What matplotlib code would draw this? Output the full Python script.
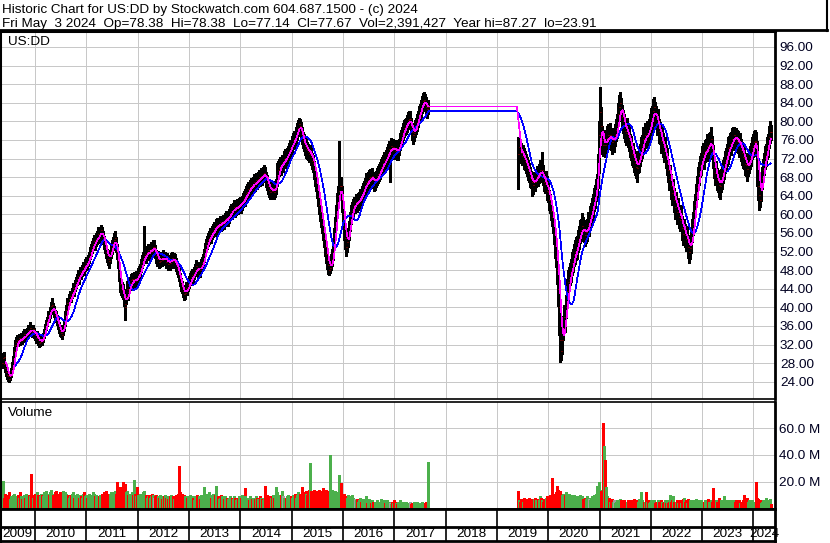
#!/usr/bin/env python

import numpy as np
import pandas as pd
import matplotlib
matplotlib.use('Agg')
import matplotlib.pyplot as plt
import matplotlib.dates as mdates
import matplotlib.ticker as plticker

plt.rcParams['font.family'] = ['Liberation Sans', 'DejaVu Sans']
plt.rcParams['font.size'] = 9.7

# Weekly data, old DD (May 2009 - Aug 2017)

old_close = [
    28.0, 29.0, 29.3, 27.8, 27.0, 26.0, 25.5, 25.2, 24.5, 25.3,
    26.2, 27.0, 28.8, 30.5, 32.0, 32.6, 33.0, 32.4, 33.3, 32.8,
    33.5, 33.0, 33.8, 34.2, 33.6, 34.0, 34.5, 35.2, 34.8, 35.5,
    35.0, 34.6, 35.3, 34.5, 34.0, 33.4, 33.9, 33.0, 32.4, 32.5,
    33.2, 32.8, 33.5, 34.3, 35.5, 36.2, 37.0, 38.2, 37.8, 39.0,
    40.2, 40.5, 39.6, 39.0, 38.4, 38.0, 37.2, 36.5, 35.6, 35.0,
    34.5, 34.0, 35.2, 36.0, 37.0, 38.3, 39.5, 41.0, 40.6, 41.8,
    42.5, 42.2, 43.0, 44.1, 43.6, 44.8, 45.4, 46.0, 46.8, 46.3,
    47.5, 47.2, 48.0, 48.6, 48.2, 49.0, 49.6, 49.2, 50.0, 50.8,
    51.7, 52.3, 53.0, 53.6, 54.2, 53.8, 54.6, 55.0, 55.8, 55.3,
    56.0, 56.6, 55.8, 55.0, 54.0, 53.0, 52.0, 51.2, 50.5, 50.0,
    51.0, 52.1, 53.0, 53.8, 54.5, 55.0, 53.5, 52.0, 50.0, 47.5,
    45.0, 44.2, 43.8, 43.5, 42.0, 40.8, 40.0, 42.5, 44.0, 43.2,
    44.5, 45.2, 45.8, 46.0, 45.4, 46.2, 45.6, 46.4, 46.0, 47.0,
    47.5, 48.0, 49.0, 49.8, 50.5, 51.0, 51.5, 51.0, 51.8, 52.3,
    51.6, 52.0, 52.6, 52.2, 53.0, 53.0, 52.0, 51.0, 50.3, 50.8,
    49.8, 50.0, 50.6, 50.2, 51.0, 50.4, 50.5, 49.8, 50.2, 49.4,
    49.8, 49.5, 50.3, 50.6, 49.9, 50.2, 50.0, 49.2, 48.5, 48.0,
    47.0, 46.0, 45.0, 44.3, 43.6, 42.8, 43.0, 43.5, 44.2, 44.0,
    44.8, 45.5, 46.0, 46.6, 47.0, 46.5, 47.4, 48.0, 48.8, 48.5,
    48.0, 48.4, 48.0, 48.9, 49.5, 50.0, 51.2, 52.5, 53.3, 54.0,
    54.5, 55.0, 55.6, 55.2, 56.0, 56.5, 57.0, 56.8, 57.5, 57.8,
    57.2, 57.6, 58.3, 57.8, 58.0, 58.5, 58.2, 58.9, 59.3, 58.8,
    59.0, 59.6, 60.2, 60.8, 60.4, 61.0, 61.5, 60.9, 61.3, 61.8,
    61.5, 62.0, 62.3, 61.8, 62.5, 63.0, 63.6, 63.2, 64.0, 64.5,
    64.9, 65.4, 65.0, 65.8, 66.3, 66.0, 66.5, 67.0, 66.6, 67.3,
    67.0, 67.5, 68.0, 67.6, 68.3, 68.0, 68.6, 69.0, 68.5, 67.5,
    66.8, 66.0, 65.3, 64.8, 65.5, 65.0, 65.6, 64.9, 65.3, 66.0,
    68.5, 69.6, 70.0, 70.5, 70.2, 71.0, 71.0, 71.8, 72.2, 71.7,
    72.5, 73.0, 73.6, 74.3, 74.0, 75.0, 75.8, 76.2, 76.0, 77.0,
    77.8, 78.6, 79.5, 79.0, 78.0, 77.0, 76.0, 75.4, 74.6, 74.0,
    74.5, 73.8, 73.4, 73.0, 73.2, 72.4, 71.5, 71.0, 69.5, 68.0,
    67.0, 65.5, 63.8, 62.0, 60.5, 59.2, 58.0, 56.5, 55.0, 53.0,
    51.5, 50.2, 49.0, 48.0, 48.5, 49.5, 50.5, 52.0, 55.0, 57.5,
    60.0, 62.5, 64.0, 65.0, 66.2, 66.0, 63.0, 60.0, 57.0, 55.0,
    53.0, 54.0, 55.0, 56.5, 58.5, 60.0, 60.8, 61.4, 62.0, 62.0,
    62.6, 62.2, 62.8, 63.0, 63.6, 63.3, 64.2, 65.0, 65.4, 66.0,
    66.5, 67.0, 66.6, 67.4, 67.8, 68.0, 67.6, 68.2, 67.4, 66.8,
    67.0, 67.6, 68.2, 68.6, 69.0, 69.5, 70.2, 70.5, 71.0, 71.6,
    71.4, 72.0, 72.6, 73.3, 74.0, 74.0, 74.6, 73.8, 74.4, 74.0,
    73.6, 74.2, 73.4, 73.5, 74.5, 75.6, 76.3, 77.0, 77.8, 78.5,
    78.8, 79.0, 79.6, 80.2, 80.5, 80.5, 79.0, 77.8, 77.0, 77.6,
    78.4, 79.0, 79.8, 80.5, 81.5, 82.0, 82.8, 83.6, 84.3, 84.5,
    84.0, 83.5, 83.0, 82.6, 83.0]

old_high = [
    29.5, 30.2, 30.4, 29.6, 28.2, 27.4, 26.8, 26.3, 25.8, 26.4,
    27.0, 28.3, 29.6, 31.4, 32.9, 33.6, 34.0, 33.5, 34.2, 33.9,
    34.4, 34.0, 34.9, 35.3, 34.6, 35.1, 35.6, 36.3, 35.9, 36.8,
    36.0, 35.7, 36.2, 35.6, 35.0, 34.5, 34.9, 34.2, 33.5, 33.4,
    34.0, 33.8, 34.4, 35.3, 36.4, 37.3, 38.0, 39.2, 38.9, 40.0,
    41.2, 42.0, 41.0, 40.2, 39.5, 39.2, 38.3, 37.6, 36.8, 36.1,
    35.6, 35.3, 36.2, 37.1, 38.0, 39.3, 40.6, 42.0, 41.7, 42.8,
    43.6, 43.4, 44.2, 45.2, 44.8, 45.9, 46.6, 47.2, 48.0, 47.5,
    48.7, 48.5, 49.2, 49.8, 49.5, 50.3, 50.9, 50.5, 51.3, 52.0,
    53.0, 53.6, 54.3, 55.0, 55.6, 55.2, 56.0, 56.5, 57.2, 56.8,
    57.3, 57.8, 57.2, 56.4, 55.4, 54.4, 53.4, 52.6, 51.9, 51.4,
    52.4, 53.5, 54.4, 55.2, 56.0, 56.5, 55.2, 53.6, 51.8, 49.4,
    47.0, 46.0, 45.4, 45.0, 44.0, 42.8, 42.4, 44.0, 45.6, 44.8,
    45.9, 46.6, 47.2, 47.4, 46.8, 47.6, 47.0, 47.9, 47.4, 48.4,
    48.9, 49.4, 50.4, 51.2, 51.9, 57.6, 52.9, 52.4, 53.2, 53.7,
    53.0, 53.4, 54.0, 53.6, 54.4, 54.4, 53.4, 52.4, 51.7, 52.2,
    51.2, 51.4, 52.0, 51.6, 52.4, 51.8, 51.9, 51.2, 51.6, 50.8,
    51.2, 50.9, 51.7, 52.0, 51.3, 51.6, 51.4, 50.6, 49.9, 49.4,
    48.4, 47.4, 46.4, 45.6, 44.9, 44.1, 44.3, 44.8, 45.5, 45.3,
    46.1, 46.8, 47.3, 47.9, 48.3, 47.8, 48.7, 49.3, 50.1, 49.8,
    49.4, 49.8, 49.4, 50.3, 50.9, 51.4, 52.6, 53.9, 54.7, 55.4,
    55.9, 56.4, 57.0, 56.6, 57.4, 57.9, 58.4, 58.2, 58.9, 59.2,
    58.6, 59.0, 59.7, 59.2, 59.4, 59.9, 59.6, 60.3, 60.7, 60.2,
    60.5, 61.1, 61.7, 62.3, 61.9, 62.5, 63.0, 62.4, 62.8, 63.3,
    63.0, 63.5, 63.8, 63.3, 64.0, 64.5, 65.1, 64.7, 65.5, 66.0,
    66.5, 67.0, 66.6, 67.4, 67.9, 67.6, 68.1, 68.6, 68.2, 68.9,
    68.6, 69.1, 69.6, 69.2, 69.9, 69.6, 70.2, 70.6, 70.1, 69.1,
    68.4, 67.6, 66.9, 66.4, 67.1, 66.6, 67.2, 66.5, 66.9, 67.6,
    71.0, 71.4, 71.8, 72.3, 72.0, 72.8, 72.8, 73.6, 74.0, 73.5,
    74.3, 74.8, 75.4, 76.1, 75.8, 76.8, 77.6, 78.0, 77.8, 78.8,
    79.6, 80.4, 80.8, 80.6, 79.8, 78.8, 77.8, 77.2, 76.4, 75.8,
    76.3, 75.6, 75.2, 74.8, 75.0, 74.2, 73.3, 72.8, 71.4, 69.9,
    69.0, 67.5, 65.8, 64.0, 62.5, 61.2, 60.0, 58.5, 57.0, 55.0,
    53.5, 52.2, 51.0, 50.0, 50.5, 51.5, 52.5, 54.0, 57.0, 59.5,
    62.0, 64.5, 66.0, 75.8, 68.0, 68.0, 66.0, 62.5, 59.5, 57.0,
    55.0, 56.0, 57.0, 58.5, 60.5, 62.0, 62.6, 63.2, 63.8, 63.8,
    64.4, 64.0, 64.6, 64.8, 65.4, 65.1, 66.0, 66.8, 67.2, 67.8,
    68.3, 68.8, 68.4, 69.2, 69.6, 69.8, 69.4, 70.0, 69.2, 68.6,
    68.8, 69.4, 70.0, 70.4, 70.8, 71.3, 72.0, 72.3, 72.8, 73.4,
    73.2, 73.8, 74.4, 75.1, 75.8, 75.8, 76.4, 75.6, 76.2, 75.8,
    75.4, 76.0, 75.2, 75.3, 76.3, 77.4, 78.1, 78.8, 79.6, 80.3,
    80.6, 80.8, 81.4, 82.0, 82.3, 82.3, 80.8, 79.6, 78.8, 79.4,
    80.2, 80.8, 81.6, 82.3, 83.3, 83.8, 84.6, 85.4, 86.1, 86.3,
    85.8, 85.3, 84.8, 84.4, 84.6]

old_low = [
    27.0, 27.6, 28.2, 27.0, 26.1, 25.3, 24.6, 24.2, 23.9, 24.3,
    25.0, 26.0, 27.2, 28.6, 30.2, 31.6, 32.0, 31.6, 32.1, 31.9,
    32.4, 32.1, 32.8, 33.3, 32.6, 33.1, 33.6, 34.1, 33.8, 34.6,
    34.0, 33.6, 34.3, 33.5, 32.9, 32.4, 32.8, 32.0, 31.5, 31.6,
    32.1, 31.9, 32.5, 33.4, 34.3, 35.2, 36.0, 37.1, 36.8, 37.8,
    39.0, 39.4, 38.6, 38.0, 37.3, 36.9, 36.1, 35.4, 34.5, 33.8,
    33.6, 33.2, 34.1, 35.0, 35.9, 37.2, 38.4, 39.8, 39.6, 40.7,
    41.4, 41.1, 41.9, 42.9, 42.5, 43.6, 44.2, 44.9, 45.6, 45.1,
    46.3, 46.0, 46.8, 47.4, 47.0, 47.8, 48.4, 48.0, 48.8, 49.5,
    50.4, 51.0, 51.7, 52.3, 52.9, 52.4, 53.2, 53.6, 54.4, 53.9,
    54.6, 55.2, 54.4, 53.6, 52.6, 51.6, 50.6, 49.8, 49.0, 48.5,
    49.5, 50.6, 51.5, 52.3, 53.0, 53.5, 52.0, 50.4, 48.4, 45.6,
    43.2, 42.6, 42.2, 41.8, 40.2, 37.2, 38.6, 40.8, 42.4, 41.6,
    43.0, 43.8, 44.4, 44.6, 44.0, 44.8, 44.2, 45.0, 44.6, 45.6,
    46.1, 46.6, 47.6, 48.4, 49.1, 49.6, 50.1, 49.6, 50.4, 50.9,
    50.2, 50.6, 51.2, 50.8, 51.6, 51.6, 50.6, 49.6, 48.9, 49.4,
    48.4, 48.6, 49.2, 48.8, 49.6, 49.0, 49.1, 48.4, 48.8, 48.0,
    48.4, 48.1, 48.9, 49.2, 48.5, 48.8, 48.6, 47.8, 47.1, 46.6,
    45.6, 44.6, 43.6, 43.0, 42.3, 41.6, 41.7, 42.2, 42.9, 42.7,
    43.5, 44.2, 44.7, 45.3, 45.7, 45.2, 46.1, 46.7, 47.5, 47.2,
    46.6, 47.0, 46.6, 47.5, 48.1, 48.6, 49.8, 51.1, 51.9, 52.6,
    53.1, 53.6, 54.2, 53.8, 54.6, 55.1, 55.6, 55.4, 56.1, 56.4,
    55.8, 56.2, 56.9, 56.4, 56.6, 57.1, 56.8, 57.5, 57.9, 57.4,
    57.5, 58.1, 58.7, 59.3, 58.9, 59.5, 60.0, 59.4, 59.8, 60.3,
    60.0, 60.5, 60.8, 60.3, 61.0, 61.5, 62.1, 61.7, 62.5, 63.0,
    63.3, 63.8, 63.4, 64.2, 64.7, 64.4, 64.9, 65.4, 65.0, 65.7,
    65.4, 65.9, 66.4, 66.0, 66.7, 66.4, 67.0, 67.4, 66.9, 65.9,
    65.2, 64.4, 63.7, 63.2, 63.9, 63.4, 64.0, 63.3, 63.7, 64.4,
    66.0, 67.8, 68.2, 68.7, 68.4, 69.2, 69.2, 70.0, 70.4, 69.9,
    70.7, 71.2, 71.8, 72.5, 72.2, 73.2, 74.0, 74.4, 74.2, 75.2,
    76.0, 76.8, 77.6, 77.2, 76.2, 75.2, 74.2, 73.6, 72.8, 72.2,
    72.7, 72.0, 71.6, 71.2, 71.4, 70.6, 69.7, 69.2, 67.6, 66.1,
    65.0, 63.5, 61.8, 60.0, 58.5, 57.2, 56.0, 54.5, 53.0, 51.0,
    49.5, 48.2, 47.2, 47.0, 47.3, 48.0, 48.8, 50.2, 53.0, 55.5,
    58.0, 60.5, 62.0, 63.0, 64.2, 63.0, 60.5, 57.5, 54.5, 52.5,
    51.0, 52.0, 53.0, 54.5, 56.5, 58.0, 59.0, 59.6, 60.2, 60.2,
    60.8, 60.4, 61.0, 61.2, 61.8, 61.5, 62.4, 63.2, 63.6, 64.2,
    64.7, 65.2, 64.8, 65.6, 66.0, 66.2, 65.8, 66.4, 65.6, 65.0,
    65.2, 65.8, 66.4, 66.8, 67.2, 67.7, 68.4, 68.7, 69.2, 69.8,
    69.6, 70.2, 70.8, 71.5, 72.2, 67.0, 72.8, 72.0, 72.6, 72.2,
    71.8, 72.4, 71.6, 71.7, 72.7, 73.8, 74.5, 75.2, 76.0, 76.7,
    77.0, 77.2, 77.8, 78.4, 78.7, 78.7, 77.2, 76.0, 75.2, 75.8,
    76.6, 77.2, 78.0, 78.7, 79.7, 80.2, 81.0, 81.8, 82.5, 82.7,
    82.2, 81.7, 81.2, 80.8, 81.6]

old_vol = [  # millions of shares
    12, 20.5, 9, 8, 11, 10, 8, 9, 12, 7,
    9, 8, 10, 11, 8, 9, 7, 10, 8, 12,
    9, 7, 8, 10, 8, 11, 9, 8, 10, 9,
    25.7, 10, 8, 9, 11, 9, 12, 10, 8, 9,
    11, 10, 9, 12, 10, 13, 11, 9, 10, 12,
    14, 11, 10, 9, 12, 13, 10, 11, 9, 12,
    10, 11, 13, 9, 10, 12, 11, 9, 10, 8,
    9, 10, 11, 12, 8, 9, 10, 11, 9, 8,
    10, 9, 8, 11, 12, 9, 10, 8, 9, 11,
    9, 10, 8, 12, 11, 9, 10, 8, 7, 9,
    10, 9, 11, 8, 12, 10, 13, 11, 9, 10,
    11, 12, 10, 9, 12, 13, 11, 20, 12, 15,
    16, 14, 13, 20, 17, 18, 15, 12, 13, 10,
    11, 10, 9, 12, 10, 21, 11, 9, 16, 10,
    9, 11, 10, 8, 12, 13, 9, 10, 8, 9,
    10, 8, 9, 11, 10, 8, 9, 10, 7, 9,
    8, 10, 9, 7, 8, 9, 10, 8, 9, 7,
    8, 9, 10, 8, 9, 7, 8, 10, 9, 11,
    31.7, 12, 10, 11, 9, 10, 8, 9, 7, 8,
    9, 8, 10, 7, 9, 8, 6, 9, 8, 10,
    8, 9, 7, 10, 8, 9, 16, 10, 11, 9,
    10, 12, 9, 8, 10, 11, 9, 10, 17, 8,
    9, 7, 8, 10, 9, 8, 7, 9, 6, 8,
    7, 8, 9, 6, 8, 7, 9, 8, 6, 7,
    8, 9, 7, 8, 10, 9, 8, 15, 9, 6,
    7, 8, 6, 9, 8, 7, 8, 6, 7, 9,
    8, 7, 6, 9, 8, 7, 6, 8, 16.5, 9,
    10, 8, 9, 7, 8, 9, 10, 8, 9, 16,
    12, 10, 9, 8, 10, 13, 9, 8, 7, 8,
    9, 10, 8, 7, 9, 8, 10, 9, 11, 8,
    10, 12, 9, 11, 10, 16, 12, 11, 9, 13,
    11, 10, 12, 14, 34, 13, 12, 10, 14, 12,
    13, 11, 12, 14, 10, 13, 12, 15, 11, 13,
    14, 12, 13, 11, 40, 12, 14, 12, 11, 13,
    10, 12, 11, 25, 12, 19, 10, 9, 11, 8,
    9, 8, 10, 7, 8, 9, 10, 8, 6, 7,
    6, 7, 5, 6, 8, 5, 6, 7, 5, 6,
    5, 9, 4, 5, 7, 5, 4, 6, 5, 4,
    5, 4, 6, 5, 4, 5, 7, 4, 5, 6,
    4, 5, 6, 4, 5, 4, 3, 5, 4, 6,
    5, 4, 3, 5, 4, 6, 4, 3, 5, 4,
    3, 5, 4, 3, 4, 5, 3, 4, 3, 5,
    4, 3, 5, 4, 3, 4, 3, 5, 4, 3,
    4, 3, 5, 4, 35]

# Weekly data, new DD (June 2019 - May 2024)

new_close = [
    73.0, 74.5, 74.0, 73.2, 72.5, 73.0, 72.0, 71.5, 71.0, 70.2,
    69.5, 69.0, 68.0, 67.5, 67.0, 66.4, 67.2, 67.0, 67.8, 68.3,
    68.0, 68.8, 69.5, 69.0, 69.5, 68.5, 67.0, 66.5, 67.2, 66.0,
    65.0, 64.8, 63.0, 62.4, 60.8, 59.5, 58.2, 55.8, 53.2, 51.0,
    48.0, 44.0, 40.0, 33.0, 30.5, 33.0, 35.5, 38.0, 37.2, 40.0,
    43.5, 45.5, 46.0, 47.2, 47.8, 49.6, 50.0, 51.2, 51.8, 52.6,
    52.8, 54.2, 55.0, 56.2, 56.6, 57.6, 56.8, 56.4, 55.6, 56.2,
    56.6, 57.8, 57.8, 59.4, 59.8, 61.2, 61.8, 63.2, 63.8, 65.2,
    66.0, 70.0, 77.0, 82.0, 79.0, 76.0, 75.0, 75.6, 75.0, 75.6,
    76.0, 76.5, 77.0, 76.4, 77.0, 76.2, 75.5, 76.0, 76.0, 77.0,
    78.2, 79.0, 81.5, 83.0, 84.0, 82.5, 81.0, 80.0, 79.0, 78.0,
    77.5, 78.3, 76.8, 76.2, 74.8, 74.2, 73.0, 72.8, 71.6, 71.0,
    70.2, 70.0, 71.2, 71.8, 72.8, 74.0, 74.6, 76.2, 76.0, 77.0,
    76.6, 77.5, 77.0, 78.2, 79.0, 80.3, 80.8, 82.2, 83.0, 81.6,
    81.0, 79.5, 80.2, 78.0, 77.5, 75.8, 76.5, 75.0, 73.6, 74.2,
    72.5, 71.0, 71.8, 69.5, 67.6, 68.2, 66.0, 64.5, 65.2, 63.0,
    61.5, 62.4, 60.5, 61.2, 59.5, 58.8, 59.6, 57.0, 55.8, 56.6,
    55.5, 54.6, 55.2, 53.0, 51.8, 52.8, 54.0, 56.5, 58.0, 60.4,
    62.0, 64.2, 65.8, 67.8, 68.8, 70.3, 70.8, 72.2, 73.0, 72.3,
    73.6, 73.8, 74.8, 73.9, 75.2, 75.4, 76.2, 74.3, 72.5, 70.2,
    68.8, 68.9, 67.6, 67.2, 66.3, 66.0, 67.3, 67.8, 69.2, 70.0,
    71.2, 71.8, 72.8, 73.3, 74.2, 74.4, 75.2, 75.3, 76.2, 76.3,
    77.0, 76.3, 76.2, 75.8, 75.6, 74.9, 75.2, 73.8, 73.1, 72.4,
    72.2, 70.8, 70.6, 69.8, 70.7, 71.4, 72.2, 72.9, 74.2, 74.8,
    75.6, 75.8, 75.5, 72.0, 66.0, 64.2, 63.0, 65.2, 67.8, 69.6,
    70.8, 72.2, 72.8, 74.2, 74.8, 76.6, 77.8, 77.67]

new_high = [
    76.6, 76.6, 76.0, 75.4, 74.6, 75.0, 74.2, 73.6, 73.0, 72.4,
    71.6, 71.0, 70.2, 69.4, 69.2, 68.6, 69.2, 69.2, 69.8, 70.4,
    70.2, 70.8, 71.6, 71.2, 73.5, 70.6, 69.2, 68.4, 69.4, 68.2,
    67.2, 66.8, 65.2, 64.4, 63.0, 61.6, 60.4, 58.4, 55.8, 53.6,
    51.0, 48.0, 44.5, 40.0, 34.5, 36.0, 38.2, 40.6, 40.0, 42.6,
    46.0, 48.0, 48.6, 49.6, 50.4, 52.0, 52.6, 53.6, 54.4, 55.2,
    55.4, 56.6, 57.6, 58.8, 59.0, 60.2, 59.4, 58.8, 58.2, 58.6,
    59.0, 60.4, 60.2, 61.8, 62.4, 63.6, 64.4, 65.6, 66.4, 67.6,
    68.6, 73.0, 80.0, 87.3, 83.0, 79.0, 77.6, 78.2, 77.6, 78.0,
    78.4, 79.0, 79.4, 78.8, 79.6, 78.6, 78.0, 78.4, 78.6, 79.4,
    80.6, 81.6, 84.0, 85.6, 86.3, 85.0, 83.6, 82.4, 81.6, 80.4,
    80.0, 80.8, 79.2, 78.8, 77.2, 76.8, 75.4, 75.4, 74.0, 73.6,
    72.6, 72.6, 73.6, 74.4, 75.2, 76.6, 77.0, 78.8, 78.4, 79.6,
    79.0, 80.0, 79.6, 80.6, 81.6, 82.8, 83.2, 84.8, 85.3, 84.2,
    83.4, 82.0, 82.6, 80.6, 79.8, 78.4, 78.8, 77.6, 76.0, 76.6,
    75.0, 73.6, 74.2, 72.0, 70.0, 70.6, 68.6, 67.0, 67.6, 65.6,
    64.0, 64.8, 63.0, 63.6, 62.0, 61.2, 62.0, 59.6, 58.2, 59.0,
    58.0, 57.0, 57.6, 55.6, 54.2, 55.2, 56.4, 59.0, 60.4, 62.8,
    64.4, 66.6, 68.2, 70.2, 71.2, 72.6, 73.2, 74.6, 75.4, 74.8,
    76.0, 76.2, 77.2, 76.4, 77.6, 77.8, 78.7, 76.8, 75.0, 72.6,
    71.2, 71.4, 70.0, 69.6, 68.8, 68.4, 69.8, 70.2, 71.6, 72.4,
    73.6, 74.2, 75.2, 75.8, 76.6, 76.8, 77.6, 77.8, 78.6, 78.7,
    78.7, 78.6, 78.6, 78.2, 78.0, 77.4, 77.6, 76.2, 75.6, 74.8,
    74.6, 73.2, 73.0, 72.2, 73.2, 73.8, 74.6, 75.4, 76.6, 77.2,
    78.0, 78.2, 77.8, 75.8, 72.0, 66.8, 65.6, 67.6, 70.2, 72.0,
    73.2, 74.6, 75.2, 76.6, 77.2, 79.0, 80.0, 79.2]

new_low = [
    65.4, 72.2, 72.0, 71.0, 70.6, 70.8, 69.8, 69.6, 68.8, 68.2,
    67.4, 67.0, 65.8, 65.6, 64.0, 64.4, 65.0, 65.0, 65.8, 66.2,
    66.0, 66.8, 67.4, 67.0, 67.4, 66.4, 65.0, 64.6, 65.0, 64.0,
    63.0, 62.6, 61.0, 60.2, 58.8, 57.4, 56.0, 53.6, 50.6, 48.6,
    45.0, 40.2, 34.0, 28.3, 28.6, 30.0, 33.0, 35.4, 34.6, 37.6,
    41.0, 43.0, 43.6, 44.8, 45.4, 47.0, 47.6, 48.8, 49.4, 50.2,
    50.4, 51.8, 52.6, 53.8, 54.2, 55.2, 54.4, 54.0, 53.2, 53.8,
    54.2, 55.4, 55.4, 57.0, 57.4, 58.8, 59.4, 60.8, 61.4, 62.8,
    63.6, 65.6, 69.0, 76.0, 75.2, 73.0, 72.6, 73.2, 72.4, 73.2,
    73.6, 74.0, 74.6, 74.0, 74.4, 73.8, 73.0, 73.6, 73.4, 74.6,
    75.8, 76.4, 79.0, 80.4, 81.6, 80.0, 78.4, 77.6, 76.4, 75.6,
    75.0, 75.8, 74.4, 73.6, 72.4, 71.6, 70.6, 70.2, 69.2, 68.4,
    67.8, 67.0, 68.8, 69.2, 70.4, 71.4, 72.2, 73.6, 73.6, 74.4,
    74.2, 75.0, 74.4, 75.8, 76.4, 77.8, 78.4, 79.6, 80.6, 79.0,
    78.6, 77.0, 77.8, 75.4, 75.2, 73.2, 74.2, 72.4, 71.2, 71.8,
    70.0, 68.4, 69.4, 67.0, 65.2, 65.8, 63.4, 62.0, 62.8, 60.4,
    59.0, 60.0, 58.0, 58.8, 57.0, 56.4, 57.2, 54.4, 53.4, 54.2,
    53.0, 52.2, 52.8, 50.6, 49.6, 50.4, 51.6, 54.0, 55.6, 58.0,
    59.6, 61.8, 63.4, 65.4, 66.4, 68.0, 68.4, 69.8, 70.6, 69.8,
    71.2, 71.4, 72.4, 71.4, 72.8, 73.0, 73.8, 71.8, 70.0, 67.8,
    66.4, 66.4, 65.2, 64.8, 63.8, 63.3, 64.8, 65.4, 66.8, 67.6,
    68.8, 69.4, 70.4, 70.8, 71.8, 72.0, 72.8, 72.8, 73.8, 73.9,
    74.6, 73.9, 73.8, 73.4, 73.2, 72.4, 72.8, 71.4, 70.6, 70.0,
    69.8, 68.4, 68.2, 67.2, 68.2, 69.0, 69.8, 70.4, 71.8, 72.4,
    73.2, 73.4, 72.6, 66.0, 63.0, 61.0, 61.6, 62.8, 65.4, 67.2,
    68.4, 69.8, 70.4, 71.8, 72.4, 74.2, 75.4, 76.0]

new_vol = [
    13, 6, 5, 7, 6, 5, 8, 6, 5, 7,
    6, 8, 5, 7, 6, 5, 7, 8, 6, 5,
    7, 6, 9, 8, 6, 5, 7, 6, 8, 7,
    9, 7, 6, 10, 8, 22.7, 11, 8, 10, 12,
    16.5, 14, 12, 13, 11, 10, 11, 9, 10, 12,
    10, 9, 11, 8, 10, 9, 8, 10, 7, 9,
    8, 9, 7, 10, 8, 9, 7, 6, 8, 7,
    9, 8, 7, 6, 8, 9, 8, 10, 9, 11,
    17, 12, 20, 14, 13, 12, 64, 47, 36, 16,
    9, 7, 6, 8, 5, 6, 7, 5, 6, 4,
    5, 6, 4, 5, 7, 6, 5, 4, 6, 5,
    4, 5, 6, 4, 5, 6, 4, 5, 7, 5,
    6, 4, 5, 7, 5, 12, 6, 4, 5, 5,
    12, 5, 6, 4, 5, 6, 4, 5, 6, 4,
    5, 4, 6, 5, 4, 6, 5, 4, 5, 6,
    4, 5, 6, 4, 5, 10, 5, 6, 9, 5,
    4, 5, 6, 4, 5, 6, 4, 5, 7, 8,
    5, 6, 4, 7, 5, 6, 4, 5, 6, 4,
    5, 7, 4, 6, 5, 4, 6, 5, 4, 5,
    6, 4, 5, 7, 5, 4, 6, 5, 15, 5,
    4, 6, 5, 4, 8, 5, 6, 4, 5, 9,
    5, 4, 6, 5, 4, 5, 6, 4, 5, 6,
    4, 5, 6, 4, 5, 6, 4, 5, 4, 6,
    10, 5, 4, 8, 5, 6, 4, 5, 6, 4,
    5, 4, 20, 8, 7, 5, 6, 4, 5, 6,
    4, 5, 8, 6, 4, 5, 7, 3]

years = list(range(2009, 2025))

title_1 = 'Historic Chart for US:DD by Stockwatch.com 604.687.1500 - (c) 2024'
title_2 = ('Fri May  3 2024  Op=78.38  Hi=78.38  Lo=77.14  Cl=77.67  '
           'Vol=2,391,427  Year hi=87.27  lo=23.91')

for a, b in [(old_high, old_close), (old_low, old_close), (old_vol, old_close),
             (new_high, new_close), (new_low, new_close), (new_vol, new_close)]:
    assert len(a) == len(b), (len(a), len(b))

# Series

dates = pd.date_range('2009-05-08', periods=len(old_close), freq='W-FRI').append(
        pd.date_range('2019-05-31', periods=len(new_close), freq='W-FRI'))
xd = mdates.date2num(dates.values)

close = pd.Series(old_close + new_close, index=dates)
high = np.array(old_high + new_high)
low = np.array(old_low + new_low)
vol = np.array(old_vol + new_vol)

# moving averages hold their last value across the 2017-2019 gap
weeks = pd.date_range(dates[0], dates[-1], freq='W-FRI')
ma_fast = close.rolling(5).mean().reindex(weeks).ffill()
ma_slow = close.rolling(15).mean().reindex(weeks).ffill()
xw = mdates.date2num(weeks.values)

RED = '#ff0000'
GREEN = '#4cb04c'
GREY = '#a0a0a0'
GRID = '#c8c8c8'
LABEL = '#000020'

chg = close.diff().fillna(1.0).values
vol_colors = np.where(chg > 0, GREEN, np.where(chg < 0, RED, GREY))

# Figure, laid out in pixels

W, H = 830, 543
fig = plt.figure(figsize=(W / 100, H / 100), dpi=100)

def px_axes(x0, y0, x1, y1):
    return fig.add_axes([x0 / W, 1 - y1 / H, (x1 - x0) / W, (y1 - y0) / H])

x_lo = mdates.date2num(np.datetime64('2009-04-27'))
x_hi = mdates.date2num(np.datetime64('2024-06-02'))
year_x = [mdates.date2num(np.datetime64('{:d}-01-01'.format(y))) for y in years[1:]]

def style_frame(ax, top, bottom, left=2.2, right=2.0):
    for side, lw in zip(['top', 'bottom', 'left', 'right'], [top, bottom, left, right]):
        ax.spines[side].set_linewidth(lw)
        ax.spines[side].set_color('black')

# Price panel

ax = px_axes(0, 31, 775, 399)

ax.vlines(xd, low, high, color='black', lw=1.0, antialiased=False, zorder=2)
ax.plot(xd, close.values, ls='none', marker=1, ms=1.0, mew=0.5, color=RED,
        antialiased=False, zorder=3)
ax.plot(xw, ma_slow.values, color='#0000ff', lw=0.5, antialiased=False, zorder=4)
ax.plot(xw, ma_fast.values, color='#ff00ff', lw=0.5, antialiased=False, zorder=5)

ax.set_xlim(x_lo, x_hi)
ax.set_ylim(20.28, 99.44)
ax.set_xticks(year_x)
ax.set_xticklabels([])
ax.yaxis.tick_right()
ax.set_yticks(np.arange(24, 97, 4))
ax.yaxis.set_major_formatter(plticker.FormatStrFormatter('%.2f'))
ax.tick_params(length=0, pad=3.5, labelsize=9.7, labelcolor=LABEL)
ax.grid(True, color=GRID, lw=0.5, antialiased=False)
ax.set_axisbelow(True)
style_frame(ax, top=2.2, bottom=1.2)

# Volume panel

axv = px_axes(0, 402, 775, 509)

axv.vlines(xd, 0, vol, colors=vol_colors, lw=1.0, antialiased=False, zorder=2)

axv.set_xlim(x_lo, x_hi)
axv.set_ylim(-0.5, 79.6)
axv.set_xticks(year_x)
axv.set_xticklabels([])
axv.yaxis.tick_right()
axv.set_yticks([20, 40, 60])
axv.set_yticklabels(['20.0 M', '40.0 M', '60.0 M'])
axv.tick_params(length=0, pad=3.0, labelsize=9.7, labelcolor=LABEL)
axv.grid(True, color=GRID, lw=0.5, antialiased=False)
axv.set_axisbelow(True)
style_frame(axv, top=1.2, bottom=2.0)

# Date band

axd = px_axes(0, 509, 775, 541)
axd.set_xlim(x_lo, x_hi)
axd.set_ylim(0, 1)
axd.set_xticks([])
axd.set_yticks([])
axd.axhline(14 / 32, color='black', lw=2.0)
axd.vlines(year_x, 0, 1, color='black', lw=1.2)
edges = [x_lo] + year_x + [x_hi]
for i, y in enumerate(years):
    axd.text((edges[i] + edges[i + 1]) / 2, 7 / 32, str(y),
             ha='center', va='center', fontsize=9.7, color='black')
style_frame(axd, top=2.0, bottom=2.0)

# Header and panel labels

bg = fig.add_axes([0, 0, 1, 1], zorder=10)
bg.set_xlim(0, W)
bg.set_ylim(H, 0)
bg.axis('off')
bg.patch.set_visible(False)

bg.plot([0, 827], [30.2, 30.2], color='black', lw=2.0)
bg.plot([826.5, 826.5], [0, 31], color='black', lw=1.5)

bg.text(1.5, 13.5, title_1, va='baseline', ha='left', fontsize=9.7)
bg.text(1.5, 27.0, title_2, va='baseline', ha='left', fontsize=9.7)
bg.text(8, 42, 'US:DD', va='center', ha='left', fontsize=9.7)
bg.text(8, 413, 'Volume', va='center', ha='left', fontsize=9.7)

fig.savefig('out.png', dpi=100)
